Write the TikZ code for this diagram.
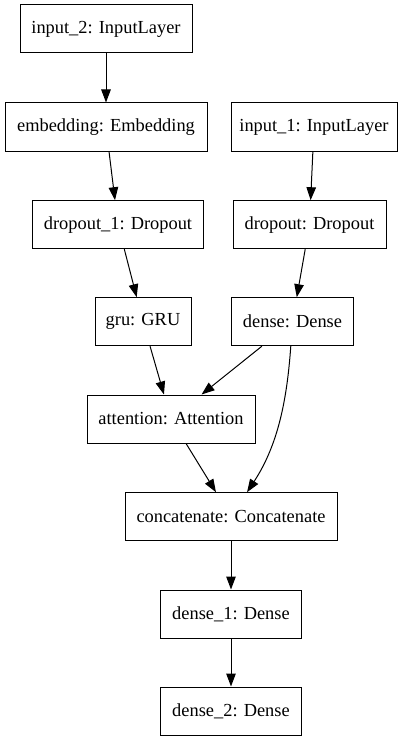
\documentclass[tikz,border=0pt]{standalone}
\usepackage{fontspec}
\setmainfont{Liberation Serif}
\usetikzlibrary{arrows.meta}
\begin{document}
\begin{tikzpicture}[x=1pt,y=-1pt,
  layer/.style={draw, line width=1pt, rectangle, inner sep=0pt, minimum height=48pt, font=\fontsize{18.4}{20}\selectfont},
  edge/.style={line width=1pt, -{Triangle[length=13pt,width=9.5pt]}}]
\useasboundingbox (0,0) rectangle (408,741);
\node[layer, minimum width=172pt] (in2) at (106,29) {input\_2: InputLayer};
\node[layer, minimum width=202pt] (emb) at (106,127) {embedding: Embedding};
\node[layer, minimum width=166pt] (in1) at (314,127) {input\_1: InputLayer};
\node[layer, minimum width=171pt] (do1) at (118,224.7) {dropout\_1: Dropout};
\node[layer, minimum width=153pt] (do) at (309.5,224.7) {dropout: Dropout};
\node[layer, minimum width=96pt] (gru) at (143,321.7) {gru: GRU};
\node[layer, minimum width=121.6pt] (dense) at (292.5,321.7) {dense: Dense};
\node[layer, minimum width=168pt] (att) at (171,419) {attention: Attention};
\node[layer, minimum width=212pt] (cat) at (231,516.7) {concatenate: Concatenate};
\node[layer, minimum width=140.7pt] (d1) at (231,614) {dense\_1: Dense};
\node[layer, minimum width=140.7pt] (d2) at (231,711) {dense\_2: Dense};
\draw[edge] (in2) -- (emb);
\draw[edge] (emb) -- (do1);
\draw[edge] (in1) -- (do);
\draw[edge] (do1) -- (gru);
\draw[edge] (do) -- (dense);
\draw[edge] (gru) -- (att);
\draw[edge] (dense) -- (att);
\draw[edge] (att) -- (cat);
\draw[edge] (dense) .. controls (287,400) and (278,445) .. (cat);
\draw[edge] (cat) -- (d1);
\draw[edge] (d1) -- (d2);
\end{tikzpicture}
\end{document}
